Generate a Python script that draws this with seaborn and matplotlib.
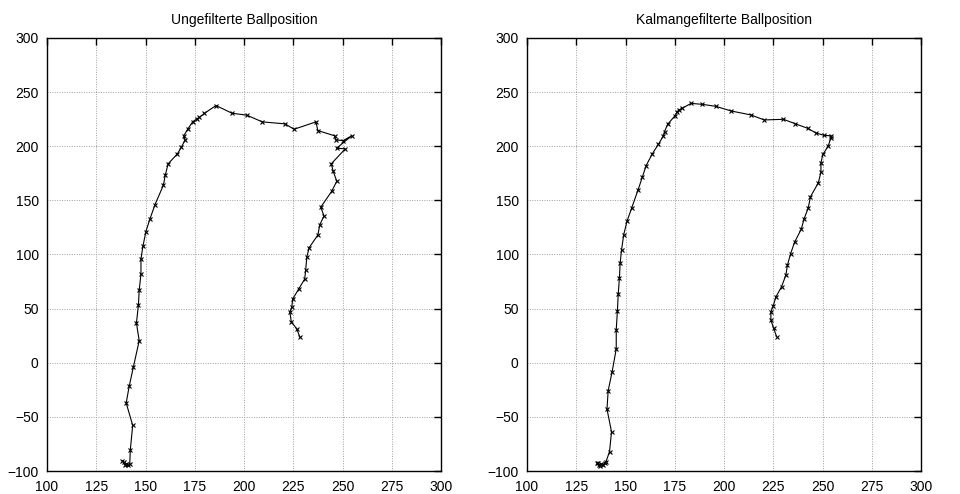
import matplotlib
matplotlib.use("Agg")
import matplotlib.pyplot as plt
import pandas as pd
import seaborn as sns

# Measured ball track (raw camera positions), in pixels
raw_x = [138.0, 139.0, 140.0, 141.0, 139.5, 142.0,
         142.3, 143.5, 140.2, 141.7, 143.9, 146.8, 145.4, 146.4, 146.8,
         147.7, 147.7, 148.7, 150.2, 152.2, 154.8, 159.1, 160.0, 161.5,
         166.2, 168.2, 170.1, 169.4, 171.5, 174.0, 176.0, 177.4, 179.9,
         185.8, 193.9, 201.4, 209.3, 220.8, 225.4, 236.5, 237.5, 246.1,
         246.5, 250.3, 254.8, 247.0, 251.4, 244.3, 245.3, 247.1, 244.6,
         239.0, 240.6, 238.5, 237.5, 233.1, 231.9, 231.3, 230.8, 227.7,
         224.7, 224.3, 223.3, 224.0, 226.7, 228.4]
raw_y = [-90.5, -92.0, -93.5, -94.5, -94.0, -93.5,
         -80.2, -57.8, -37.2, -21.9, -3.5, 20.4, 36.7, 53.3, 67.1,
         81.9, 95.7, 107.6, 121.2, 132.5, 146.0, 164.1, 173.0, 183.8,
         193.0, 199.1, 205.9, 209.6, 216.0, 222.7, 225.2, 226.7, 230.4,
         237.6, 230.5, 228.7, 222.5, 220.7, 215.7, 222.5, 214.5, 209.6,
         205.9, 205.2, 209.8, 198.2, 197.6, 183.8, 176.7, 167.8, 158.6,
         143.8, 135.5, 127.6, 118.0, 106.4, 97.8, 85.5, 77.3, 68.0,
         58.8, 51.7, 46.6, 37.9, 31.5, 23.6]

# Same track after the Kalman filter
kal_x = [136.0, 135.5, 136.5, 137.5, 138.5, 137.0, 139.5, 140.0,
         141.9, 142.9, 140.6, 141.2, 143.2, 145.3, 145.3, 145.9, 146.3,
         146.9, 147.3, 148.0, 149.1, 150.8, 153.2, 156.4, 158.6, 160.5,
         163.7, 166.7, 169.1, 169.8, 171.4, 175.2, 176.2, 177.0, 178.7,
         183.3, 189.0, 195.8, 203.6, 213.7, 220.4, 230.2, 236.0, 242.4,
         246.6, 250.8, 254.5, 254.2, 253.0, 250.2, 249.2, 249.2, 247.9,
         243.9, 242.7, 240.7, 239.2, 235.8, 233.8, 232.2, 231.4, 229.2,
         226.4, 225.0, 223.8, 223.8, 225.2, 226.7]
kal_y = [-92.5, -93.0, -94.5, -93.5, -94.0, -95.0, -93.0, -92.0,
         -82.0, -63.8, -42.8, -25.9, -8.4, 12.8, 30.6, 48.1, 63.2,
         78.0, 92.3, 104.4, 118.4, 130.9, 143.3, 159.8, 171.8, 182.2,
         193.3, 201.8, 209.2, 213.5, 220.3, 228.3, 231.7, 233.5, 235.0,
         239.6, 238.7, 236.9, 232.6, 228.9, 224.3, 224.9, 220.9, 216.6,
         212.3, 210.1, 209.6, 207.7, 200.6, 192.4, 184.7, 176.1, 166.3,
         153.4, 142.6, 133.2, 123.3, 111.3, 100.6, 90.2, 80.9, 70.2,
         61.0, 52.7, 46.9, 39.5, 31.9, 24.2]

titles = ["Ungefilterte Ballposition", "Kalmangefilterte Ballposition"]
x_ticks = list(range(100, 301, 25))
y_ticks = list(range(-100, 301, 50))

sns.set_theme(style="white")
plt.rcParams["font.family"] = ["Liberation Sans", "DejaVu Sans"]

W, H = 960, 494
fig = plt.figure(figsize=(W / 100, H / 100), dpi=100)
ax_raw = fig.add_axes([47 / W, 23 / H, 394 / W, 433 / H])
ax_kal = fig.add_axes([527 / W, 23 / H, 394 / W, 433 / H])

for ax, xs, ys, title in [(ax_raw, raw_x, raw_y, titles[0]),
                          (ax_kal, kal_x, kal_y, titles[1])]:
    df = pd.DataFrame({"x": xs, "y": ys})
    sns.lineplot(data=df, x="x", y="y", sort=False, estimator=None,
                 color="black", linewidth=0.8, marker="x", markersize=3.2,
                 markeredgewidth=0.8, markeredgecolor="black", ax=ax)
    ax.set_xlim(100, 300)
    ax.set_ylim(-100, 300)
    ax.set_xticks(x_ticks)
    ax.set_yticks(y_ticks)
    ax.set_xlabel("")
    ax.set_ylabel("")
    ax.grid(True, color="#a0a0a0", linestyle=(0, (1, 1.5)), linewidth=0.7)
    ax.set_axisbelow(True)
    ax.tick_params(direction="in", length=5, width=1, top=True, right=True,
                   labelsize=10, colors="black")
    ax.tick_params(axis="x", pad=6.5)
    ax.tick_params(axis="y", pad=6)
    for s in ax.spines.values():
        s.set_color("black")
        s.set_linewidth(1)
    ax.set_title(title, fontsize=10, pad=10, color="black")

fig.savefig("out.png", dpi=100, facecolor="white")
